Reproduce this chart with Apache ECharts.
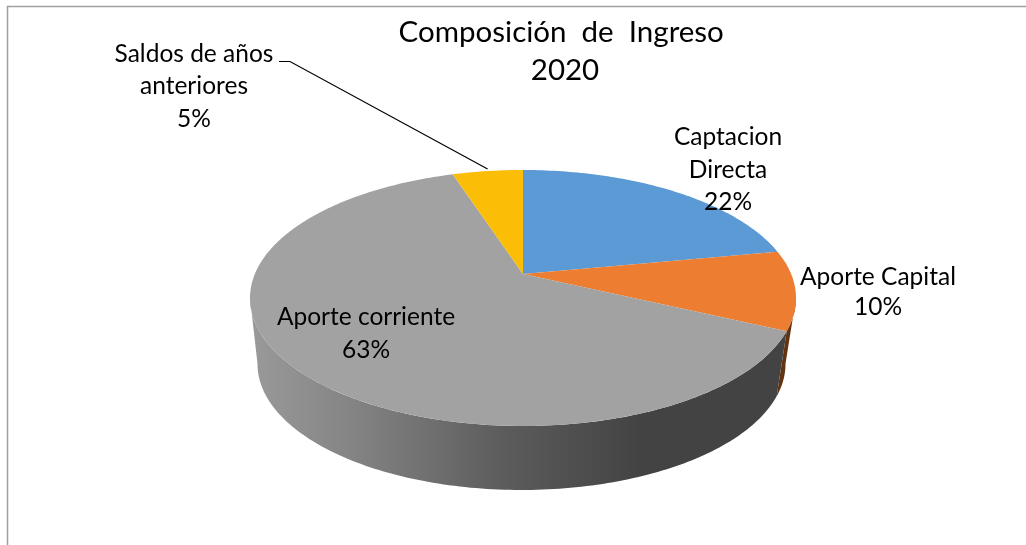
<!DOCTYPE html>
<html>
<head>
<meta charset="utf-8">
<style>html,body{margin:0;padding:0;background:#fff}#c{width:1026px;height:545px}</style>
<script src="https://cdn.jsdelivr.net/npm/echarts@6/dist/echarts.min.js"></script>
</head>
<body>
<div id="c"></div>
<script>
const categories = ['Captacion Directa', 'Aporte Capital', 'Aporte corriente', 'Saldos de años anteriores'];
const values = [22, 10, 63, 5];
const labelLines = [['Captacion', 'Directa'], ['Aporte Capital'], ['Aporte corriente'], ['Saldos de años', 'anteriores']];
const topColors = ['#5b9ad5', '#ec7d31', '#a2a2a2', '#fbbd05'];
const titleLines = ['Composición  de  Ingreso ', '2020'];

const FONT = 'Lato, Carlito, Calibri, sans-serif';
// tilt = perspective shift of the pie's apex inside each rim ellipse
const TOP = {cx: 523, cy: 298, rx: 273, ry: 128, tilt: 0.1875};
const BOT = {cx: 521.5, cy: 364, rx: 264, ry: 126, tilt: 0.19};
const labelPos = [
  {x: 728, y: 170, lh: 32.5},
  {x: 878, y: 292, lh: 29.5},
  {x: 366, y: 334, lh: 33},
  {x: 194, y: 86.5, lh: 32.5}
];

const total = values.reduce((a, b) => a + b, 0);
const startOf = i => values.slice(0, i).reduce((a, b) => a + b, 0) / total * 360;
// data angle (clockwise from 12 o'clock) -> pixel on a perspective-shifted rim
function rim(deg, e) {
  const a = deg * Math.PI / 180, x = Math.sin(a), y = Math.cos(a), t = e.tilt, d = 1 + t * y;
  return [e.cx + e.rx * x * Math.sqrt(1 - t * t) / d, e.cy - e.ry * (y + t) / d];
}
function arc(a0, a1, e) {
  const pts = [], n = Math.max(2, Math.ceil(Math.abs(a1 - a0)));
  for (let k = 0; k <= n; k++) pts.push(rim(a0 + (a1 - a0) * k / n, e));
  return pts;
}
const HORIZON = Math.acos(-TOP.tilt) * 180 / Math.PI;   // right silhouette
const HORIZON2 = 360 - HORIZON;                         // left silhouette

const wallFill = [
  '#000', '#63330f',
  new echarts.graphic.LinearGradient(250, 0, 640, 0, [
    {offset: 0, color: '#9a9a9a'},
    {offset: 0.25, color: '#858585'},
    {offset: 0.65, color: '#5c5c5c'},
    {offset: 1, color: '#434343'}
  ], true),
  '#000'
];

const seriesData = values.map((v, i) => [i, v]);

const chart = echarts.init(document.getElementById('c'), null, {renderer: 'canvas'});
chart.setOption({
  animation: false,
  backgroundColor: '#fff',
  title: {
    text: titleLines.join('\n'), left: 560, top: 8, textAlign: 'center',
    textStyle: {fontFamily: FONT, fontSize: 29.5, fontWeight: 'normal', color: '#000', lineHeight: 38}
  },
  graphic: [
    {type: 'polyline', silent: true, shape: {points: [[7.5, 545], [7.5, 6.5], [1026, 6.5]]},
     style: {stroke: '#a0a0a0', lineWidth: 1.5, fill: null}}
  ],
  series: [
    { // side wall
      type: 'custom', coordinateSystem: 'none', data: seriesData, z: 1,
      renderItem(params, api) {
        const i = api.value(0);
        const a0 = Math.max(startOf(i), HORIZON);
        const a1 = Math.min(startOf(i) + api.value(1) / total * 360, HORIZON2);
        if (a1 <= a0) return {type: 'group', children: []};
        const points = arc(a0, a1, TOP).concat(arc(a1, a0, BOT));
        return {type: 'polygon', shape: {points}, style: {fill: wallFill[i], stroke: null}};
      }
    },
    { // top face
      type: 'custom', coordinateSystem: 'none', data: seriesData, z: 2,
      renderItem(params, api) {
        const i = api.value(0);
        const a0 = startOf(i), a1 = a0 + api.value(1) / total * 360;
        const apex = [TOP.cx, TOP.cy - TOP.ry * TOP.tilt];
        return {type: 'polygon', shape: {points: [apex].concat(arc(a0, a1, TOP))},
                style: {fill: topColors[i], stroke: null}};
      }
    },
    { // labels and the leader line
      type: 'custom', coordinateSystem: 'none', data: seriesData, z: 3, silent: true,
      renderItem(params, api) {
        const i = api.value(0), p = labelPos[i];
        const text = labelLines[i].concat(api.value(1) + '%').join('\n');
        const children = [{
          type: 'text',
          style: {text, x: p.x, y: p.y, align: 'center', verticalAlign: 'middle',
                  font: '24.5px ' + FONT, lineHeight: p.lh, fill: '#000'}
        }];
        if (i === 3) {
          const mid = startOf(i) + api.value(1) / total * 180;
          const end = rim(mid, TOP);
          children.push({
            type: 'polyline',
            shape: {points: [[279, 61.5], [290, 61.5], [end[0], end[1] - 2]]},
            style: {stroke: '#000', lineWidth: 1.2, fill: null}
          });
        }
        return {type: 'group', children};
      }
    }
  ]
});
</script>
</body>
</html>
